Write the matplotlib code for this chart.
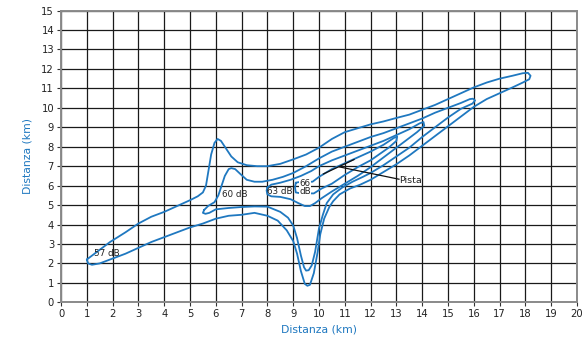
import matplotlib
matplotlib.use("Agg")
import matplotlib.pyplot as plt

# ---- data ----
x_ticks = list(range(0, 21))
y_ticks = list(range(0, 16))

c57_x = [1.0, 1.4, 1.9, 2.5, 3.0, 3.5, 4.0, 4.5, 5.0, 5.3, 5.5, 5.62, 5.72, 5.82, 5.95, 6.07,
         6.2, 6.4, 6.6, 6.85, 7.2, 7.6, 8.0, 8.5, 9.0, 9.5, 10.0, 10.5, 11.0, 11.5, 12.0, 12.5,
         13.0, 13.5, 14.0, 14.5, 15.0, 15.5, 16.0, 16.5, 17.0, 17.5, 17.9, 18.1, 18.2, 18.15,
         17.9, 17.5, 17.0, 16.5, 16.0, 15.5, 15.0, 14.5, 14.0, 13.5, 13.0, 12.5, 12.0, 11.6,
         11.2, 10.8, 10.55, 10.4, 10.2, 10.05, 9.95, 9.8, 9.65, 9.55, 9.45, 9.3, 9.15, 9.0,
         8.75, 8.4, 8.0, 7.5, 7.0, 6.5, 6.0, 5.5, 5.0, 4.5, 4.0, 3.5, 3.0, 2.5, 2.0, 1.5, 1.2,
         1.05, 1.0]
c57_y = [2.2, 2.6, 3.1, 3.6, 4.05, 4.4, 4.65, 4.95, 5.25, 5.45, 5.65, 6.0, 6.8, 7.6, 8.2, 8.4,
         8.3, 7.9, 7.5, 7.2, 7.05, 7.0, 7.0, 7.12, 7.35, 7.6, 7.95, 8.4, 8.75, 8.95, 9.15, 9.3,
         9.48, 9.65, 9.9, 10.15, 10.45, 10.75, 11.05, 11.3, 11.5, 11.65, 11.78, 11.8, 11.65, 11.47,
         11.3, 11.05, 10.75, 10.45, 10.05, 9.55, 9.05, 8.55, 8.05, 7.55, 7.1, 6.7, 6.3, 6.05,
         5.85, 5.55, 5.2, 4.9, 4.3, 3.5, 2.6, 1.5, 0.9, 0.85, 0.95, 1.6, 2.5, 3.15,
         3.7, 4.2, 4.45, 4.6, 4.5, 4.45, 4.3, 4.05, 3.85, 3.6, 3.35, 3.1, 2.8, 2.5, 2.25, 2.0, 1.93,
         2.0, 2.2]

c60_x = [5.55, 5.7, 5.95, 6.1, 6.2, 6.35, 6.5, 6.6, 6.75, 6.95, 7.2, 7.5, 7.8, 8.2, 8.6, 9.0,
         9.5, 10.0, 10.5, 11.0, 11.5, 12.0, 12.5, 13.0, 13.5, 14.0, 14.5, 15.0, 15.5, 15.85,
         15.97, 16.05, 15.95, 15.5, 15.0, 14.5, 14.0, 13.5, 13.0, 12.5, 12.0, 11.7, 11.3, 10.9,
         10.55, 10.3, 10.15, 10.0, 9.85, 9.72, 9.6, 9.5, 9.42, 9.3, 9.15, 9.0, 8.8, 8.5, 8.0,
         7.5, 7.0, 6.5, 6.0, 5.75, 5.6, 5.5, 5.55]
c60_y = [4.75, 4.95, 5.15, 5.5, 5.9, 6.5, 6.85, 6.9, 6.85, 6.6, 6.3, 6.2, 6.2, 6.3, 6.45, 6.65,
         7.0, 7.4, 7.75, 8.0, 8.25, 8.5, 8.7, 8.95, 9.2, 9.45, 9.75, 10.0, 10.25, 10.45,
         10.47, 10.38, 10.22, 9.95, 9.5, 9.0, 8.5, 7.95, 7.5, 7.05, 6.65, 6.45, 6.2, 5.9,
         5.55, 5.1, 4.5, 3.8, 2.6, 1.9, 1.65, 1.63, 1.8, 2.4, 3.3, 3.95, 4.35, 4.65, 4.92,
         4.93, 4.9, 4.85, 4.78, 4.6, 4.55, 4.6, 4.75]

c63_x = [8.0, 8.15, 8.5, 8.9, 9.3, 9.7, 10.0, 10.5, 11.0, 11.5, 12.0, 12.5, 13.0, 13.5, 13.9,
         14.05, 14.08, 13.8, 13.5, 13.0, 12.5, 12.0, 11.5, 11.0, 10.5, 10.1, 9.85, 9.65, 9.45,
         9.2, 8.9, 8.5, 8.15, 8.0, 7.97, 8.0]
c63_y = [5.9, 6.05, 6.15, 6.3, 6.5, 6.75, 7.0, 7.3, 7.55, 7.8, 8.05, 8.3, 8.6, 8.9, 9.2,
         9.27, 9.08, 8.75, 8.45, 7.95, 7.45, 6.95, 6.5, 6.1, 5.7, 5.35, 5.1, 4.95, 4.95,
         5.1, 5.3, 5.42, 5.45, 5.55, 5.75, 5.9]

c66_x = [9.1, 9.3, 9.75, 10.0, 10.5, 11.0, 11.5, 12.0, 12.5, 12.9, 13.03, 13.0, 12.7, 12.0,
         11.5, 11.0, 10.5, 10.1, 9.8, 9.3, 9.1, 9.07, 9.1]
c66_y = [6.15, 6.2, 6.2, 6.45, 6.85, 7.15, 7.45, 7.75, 8.1, 8.45, 8.52, 8.3, 7.95, 7.3,
         6.95, 6.55, 6.1, 5.85, 5.6, 5.6, 5.65, 5.9, 6.15]

runway_x = [10.17, 11.36]
runway_y = [6.6, 7.34]
leader_x = [10.8, 13.1]
leader_y = [6.96, 6.33]

labels = ["57 dB", "60 dB", "63 dB", "66\ndB"]
label_x = [1.78, 6.75, 8.48, 9.46]
label_y = [2.5, 5.53, 5.7, 5.9]
runway_label = "Pista"
runway_label_xy = (13.12, 6.25)

# ---- drawing ----
blue = "#1f78c0"
fig = plt.figure(figsize=(5.86, 3.44), dpi=100)
ax = fig.add_axes([0.1041, 0.1212, 0.8805, 0.848])

ax.set_xlim(0, 20)
ax.set_ylim(0, 15)
ax.set_xticks(x_ticks)
ax.set_yticks(y_ticks)
ax.grid(True, color="#1a1a1a", linewidth=0.9)
ax.set_axisbelow(True)
ax.tick_params(axis="both", labelsize=7.2, length=3, width=0.8, color="#333333",
               colors="#222222", pad=2)
for s in ax.spines.values():
    s.set_color("#8a8a8a")
    s.set_linewidth(1.4)

for cx, cy in [(c57_x, c57_y), (c60_x, c60_y), (c63_x, c63_y), (c66_x, c66_y)]:
    ax.plot(cx, cy, color=blue, lw=1.3, solid_joinstyle="round", solid_capstyle="round",
            zorder=3)

ax.plot(runway_x, runway_y, color="#111111", lw=0.9, zorder=4)
ax.plot(leader_x, leader_y, color="#111111", lw=0.9, zorder=4)

for i, (t, lx, ly) in enumerate(zip(labels, label_x, label_y)):
    kw = {}
    if "\n" in t:
        kw["bbox"] = dict(boxstyle="square,pad=0.05", fc="white", ec="none")
    ax.text(lx, ly, t, fontsize=6.3, ha="center", va="center", color="#222222",
            linespacing=0.95, zorder=5, **kw)
ax.text(runway_label_xy[0], runway_label_xy[1], runway_label, fontsize=6.8,
        ha="left", va="center", color="#222222", zorder=5)

ax.set_xlabel("Distanza (km)", color=blue, fontsize=7.8, labelpad=4)
ax.set_ylabel("Distanza (km)", color=blue, fontsize=7.8, labelpad=6)

fig.savefig("out.png", dpi=100)
